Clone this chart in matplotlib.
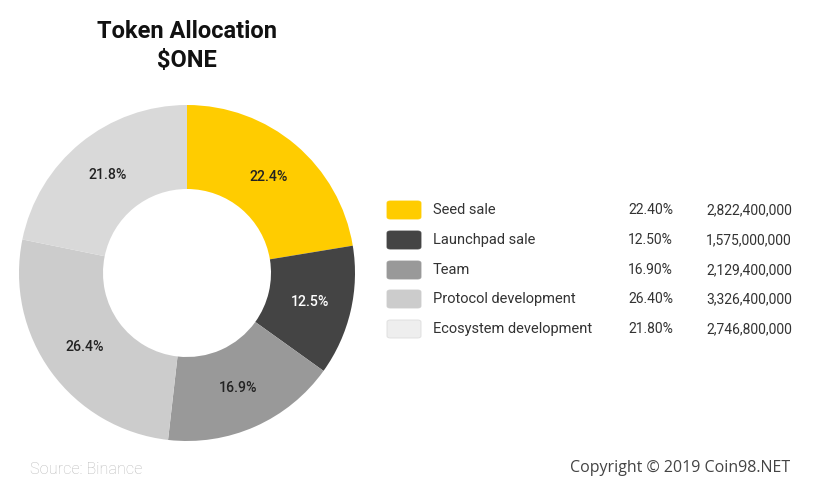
import matplotlib.pyplot as plt
from matplotlib.patches import FancyBboxPatch

labels = ['Seed sale', 'Launchpad sale', 'Team', 'Protocol development', 'Ecosystem development']
shares = [22.4, 12.5, 16.9, 26.4, 21.8]
amounts = ['2,822,400,000', '1,575,000,000', '2,129,400,000', '3,326,400,000', '2,746,800,000']
pie_colors = ['#FFCC00', '#444444', '#999999', '#CCCCCC', '#D9D9D9']
key_colors = ['#FFCC00', '#444444', '#999999', '#CCCCCC', '#EEEEEE']
label_colors = ['#222222', '#FFFFFF', '#222222', '#222222', '#222222']

plt.rcParams['font.family'] = ['Roboto', 'DejaVu Sans']

W, H = 814, 484
fig = plt.figure(figsize=(W / 100, H / 100), dpi=100)

# donut, centre (187, 273) px, radius 168 px
cx, cy, r = 187, 273, 168
pad = 172
ax = fig.add_axes([(cx - pad) / W, (H - cy - pad) / H, 2 * pad / W, 2 * pad / H])
wedges, texts, autotexts = ax.pie(
    shares, colors=pie_colors, startangle=90, counterclock=False,
    radius=1.0, wedgeprops=dict(width=0.5, linewidth=0),
    autopct=lambda p: '{:.1f}%'.format(p), pctdistance=0.75,
    textprops=dict(fontsize=10.2, fontweight='medium'))
for t, c in zip(autotexts, label_colors):
    t.set_color(c)
ax.set_xlim(-pad / r, pad / r)
ax.set_ylim(-pad / r, pad / r)
ax.set_aspect('equal')
ax.axis('off')

# title
fig.text(cx / W, 1 - 31 / H, 'Token Allocation', ha='center', va='center',
         fontsize=17, fontweight='bold', color='#111111')
fig.text(cx / W, 1 - 60 / H, '$ONE', ha='center', va='center',
         fontsize=17, fontweight='bold', color='#111111')

# legend table
row_y = [210, 240, 270, 299, 329]
for i in range(len(labels)):
    y = row_y[i]
    box = FancyBboxPatch(((387) / W, 1 - (y + 9) / H), 34 / W, 18 / H,
                         boxstyle='round,pad=0,rounding_size=0.004',
                         transform=fig.transFigure, facecolor=key_colors[i],
                         edgecolor='#DDDDDD' if i == 4 else key_colors[i],
                         linewidth=0.6)
    fig.add_artist(box)
    fig.text(433 / W, 1 - y / H, labels[i], ha='left', va='center',
             fontsize=10.5, color='#333333')
    fig.text(673 / W, 1 - y / H, '{:.2f}%'.format(shares[i]), ha='right', va='center',
             fontsize=10, color='#333333')
    fig.text(792 / W, 1 - y / H, amounts[i], ha='right', va='center',
             fontsize=10, color='#333333')

# footer
fig.text(30 / W, 1 - 469 / H, 'Source: Binance', ha='left', va='center',
         fontsize=11.7, color='#BBBBBB', fontweight='light')
fig.text(790 / W, 1 - 468 / H, 'Copyright \u00a9 2019 Coin98.NET', ha='right', va='center',
         fontsize=11.5, color='#444444', family=['Open Sans', 'DejaVu Sans'])

fig.savefig('out.png', dpi=100, facecolor='white')
